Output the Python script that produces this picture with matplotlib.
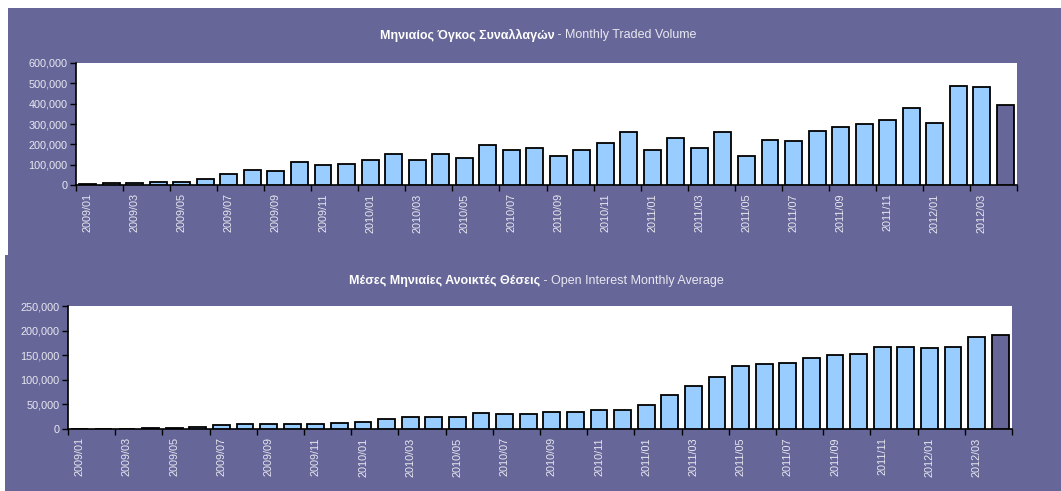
import matplotlib
matplotlib.use("Agg")
import matplotlib.pyplot as plt
from matplotlib.patches import Rectangle
from matplotlib.ticker import FuncFormatter, FixedLocator

months = [f"{y}/{m:02d}" for y in (2009, 2010, 2011) for m in range(1, 13)] + \
         ["2012/01", "2012/02", "2012/03", "2012/04"]

volume = [5000, 11000, 8000, 16000, 13000, 29000, 56000, 72000, 70000, 111000,
          99000, 103000, 124000, 152000, 121000, 152000, 135000, 199000, 173000, 184000,
          145000, 173000, 209000, 261000, 170000, 233000, 184000, 261000, 143000, 220000,
          217000, 267000, 287000, 302000, 318000, 377000, 307000, 488000, 483000, 395000]

open_interest = [0, 0, 0, 2000, 2000, 5000, 8500, 10500, 10000, 10000,
                 10000, 12900, 14900, 21000, 25000, 25000, 23700, 32500, 31000, 30000,
                 34500, 35200, 38600, 38600, 48100, 69100, 87400, 106400, 128700, 131400,
                 134100, 144300, 151100, 153100, 166700, 167400, 165300, 167400, 186300, 191100]

titles_bold = ["Μηνιαίος Όγκος Συναλλαγών", "Μέσες Μηνιαίες Ανοικτές Θέσεις"]
titles_reg = [" - Monthly Traded Volume", " - Open Interest Monthly Average"]

PURPLE = "#666699"
LIGHT = "#99CCFF"
TXT = "#E8E8F0"
FONT = ["Liberation Sans Narrow", "Liberation Sans", "DejaVu Sans"]
plt.rcParams["font.family"] = FONT

W, H = 1061, 491
fig = plt.figure(figsize=(W / 100, H / 100), dpi=100, facecolor="white")

def frect(x0, y0, x1, y1):
    return (x0 / W, 1 - y1 / H, (x1 - x0) / W, (y1 - y0) / H)

for (x0, y0, x1, y1) in [(8, 8, 1061, 256), (5, 255, 1061, 491)]:
    l, b, w, h = frect(x0, y0, x1, y1)
    fig.patches.append(Rectangle((l, b), w, h, transform=fig.transFigure,
                                 facecolor=PURPLE, edgecolor="none", zorder=-5))

panels = [
    dict(data=volume, box=(76, 63, 1017, 185), ymax=600000, step=100000,
         title_x=538, title_y=35),
    dict(data=open_interest, box=(68, 306, 1012, 429), ymax=250000, step=50000,
         title_x=536, title_y=281),
]

fmt = FuncFormatter(lambda v, p: f"{int(v):,}")
n = len(months)
xs = list(range(n))

for i, p in enumerate(panels):
    ax = fig.add_axes(frect(*p["box"]))
    ax.set_zorder(5)
    ax.set_facecolor("white")
    colors = [LIGHT] * (n - 1) + [PURPLE]
    ax.bar(xs, p["data"], width=0.72, color=colors, edgecolor="black", linewidth=1.3, zorder=3)
    ax.set_xlim(-0.5, n - 0.5)
    ax.set_ylim(0, p["ymax"])
    ax.yaxis.set_major_locator(FixedLocator(list(range(0, p["ymax"] + 1, p["step"]))))
    ax.yaxis.set_major_formatter(fmt)
    ax.xaxis.set_major_locator(FixedLocator([k - 0.5 for k in range(0, n + 1, 2)]))
    ax.xaxis.set_major_formatter(FuncFormatter(lambda v, p: ""))
    ax.xaxis.set_minor_locator(FixedLocator(xs[::2]))
    ax.set_xticklabels(months[::2], minor=True)
    ax.tick_params(axis="x", which="major", direction="out", length=4, width=1, color="black")
    ax.tick_params(axis="x", which="minor", length=0, labelrotation=90, labelsize=7.8,
                   labelcolor=TXT, pad=6)
    ax.tick_params(axis="y", direction="out", length=4, width=1, color="black",
                   labelsize=7.8, labelcolor=TXT, pad=2)
    for s in ("top", "right"):
        ax.spines[s].set_visible(False)
    for s in ("left", "bottom"):
        ax.spines[s].set_color("black")
        ax.spines[s].set_linewidth(1.2)

    # title: bold Greek part + regular English part, centred together
    cx = p["title_x"] / W
    ty = 1 - p["title_y"] / H
    t1 = fig.text(0, ty, titles_bold[i], fontsize=9, fontweight="bold", color="white",
                  ha="left", va="center")
    t2 = fig.text(0, ty, titles_reg[i], fontsize=9, color=TXT, ha="left", va="center")
    r = fig.canvas.get_renderer()
    w1 = t1.get_window_extent(r).width / W
    w2 = t2.get_window_extent(r).width / W
    x0 = cx - (w1 + w2) / 2
    t1.set_x(x0)
    t2.set_x(x0 + w1)

fig.savefig("out.png", dpi=100, facecolor="white")
